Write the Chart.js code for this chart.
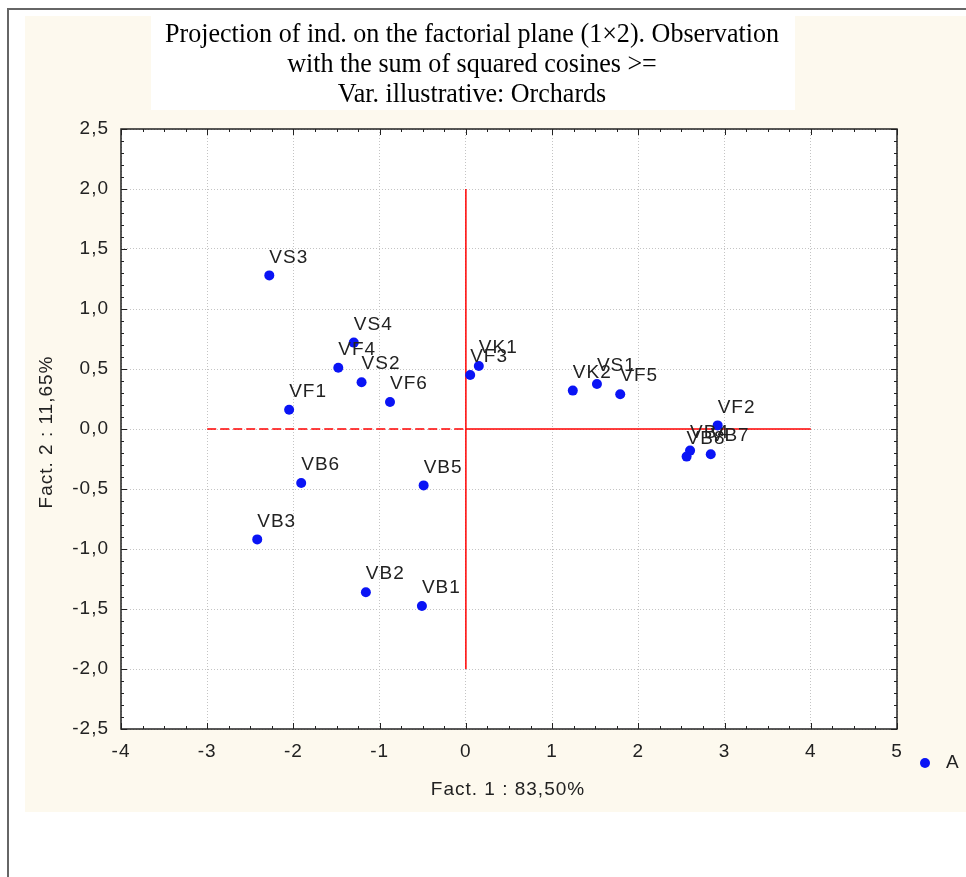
<!DOCTYPE html>
<html>
<head>
<meta charset="utf-8">
<script src="https://cdn.jsdelivr.net/npm/chart.js@4.4.1/dist/chart.umd.min.js"></script>
<style>
  html, body { margin: 0; padding: 0; background: #ffffff; }
  #wrap { width: 966px; height: 877px; position: relative; }
  canvas { display: block; }
</style>
</head>
<body>
<div id="wrap"><canvas id="c" width="966" height="877"></canvas></div>
<script>
// ---- Data ----
const titleLines = [
  'Projection of ind. on the factorial plane (1\u00d72). Observation',
  'with the sum of squared cosines >=',
  'Var. illustrative: Orchards'
];
const xAxisTitle = 'Fact. 1 : 83,50%';
const yAxisTitle = 'Fact. 2 : 11,65%';
const seriesName = 'A';

const pointLabels = ['VS3','VS4','VF4','VS2','VF1','VF6','VB6','VB5','VB3','VB2','VB1',
                     'VF3','VK1','VK2','VS1','VF5','VF2','VB7','VB4','VB8'];
const fact1 = [-2.28,-1.30,-1.48,-1.21,-2.05,-0.88,-1.91,-0.49,-2.42,-1.16,-0.51,
               0.05,0.15,1.24,1.52,1.79,2.92,2.84,2.60,2.56];
const fact2 = [1.28,0.72,0.51,0.39,0.16,0.225,-0.45,-0.47,-0.92,-1.36,-1.475,
               0.45,0.525,0.32,0.375,0.29,0.03,-0.21,-0.18,-0.23];

// reference cross lines
const vLineX = [0, 0];
const vLineY = [-2, 2];
const hSolidX = [0, 4];
const hSolidY = [0, 0];
const hDashX = [-3, 0];
const hDashY = [0, 0];

const xMin = -4, xMax = 5, xStep = 1, xMinor = 0.25;
const yMin = -2.5, yMax = 2.5, yStep = 0.5, yMinor = 0.1;

// ---- Styles ----
const CREAM = '#fdf9ee';
const BLUE = '#0a14f5';
const RED = '#ff0000';
const SANS = '"Liberation Sans", Arial, sans-serif';
const SERIF = '"Liberation Serif", "Times New Roman", serif';
const LS = '1px';
const FS = 19;

function toPts(xs, ys) { return xs.map((x, i) => ({ x: x, y: ys[i] })); }

const backgroundPlugin = {
  id: 'bg',
  beforeDraw(chart) {
    const ctx = chart.ctx;
    const W = chart.width, H = chart.height;
    ctx.save();
    ctx.fillStyle = '#ffffff';
    ctx.fillRect(0, 0, W, H);
    // outer frame lines
    ctx.fillStyle = '#666666';
    ctx.fillRect(7, 8, W - 7, 2);
    ctx.fillRect(7, 8, 2, H - 8);
    // cream panel
    ctx.fillStyle = CREAM;
    ctx.fillRect(25, 16, W - 25, 812 - 16);
    // title box
    ctx.fillStyle = '#ffffff';
    ctx.fillRect(151, 16, 795 - 151, 110 - 16);
    ctx.fillStyle = '#000000';
    ctx.font = '27px ' + SERIF;
    ctx.textAlign = 'center';
    ctx.textBaseline = 'middle';
    const w0 = ctx.measureText(titleLines[0]).width;
    const sx = 614 / w0;
    const ys = [35, 65, 95];
    titleLines.forEach((t, i) => {
      ctx.save();
      ctx.translate(472, ys[i]);
      ctx.scale(sx, 1);
      ctx.fillText(t, 0, 0);
      ctx.restore();
    });
    // plot area white
    const a = chart.chartArea;
    ctx.fillStyle = '#ffffff';
    ctx.fillRect(a.left, a.top, a.right - a.left, a.bottom - a.top);
    ctx.restore();
    ctx.letterSpacing = LS;
  }
};

const overlayPlugin = {
  id: 'overlay',
  afterDatasetsDraw(chart) {
    const ctx = chart.ctx;
    const xs = chart.scales.x, ysc = chart.scales.y;
    const a = chart.chartArea;
    ctx.save();
    ctx.letterSpacing = LS;
    // point labels
    const meta = chart.getDatasetMeta(3);
    ctx.fillStyle = '#222222';
    ctx.font = FS + 'px ' + SANS;
    ctx.textAlign = 'left';
    ctx.textBaseline = 'middle';
    meta.data.forEach((el, i) => {
      ctx.fillText(pointLabels[i], el.x, el.y - 18);
    });
    // frame
    ctx.strokeStyle = '#222222';
    ctx.lineWidth = 1.5;
    ctx.strokeRect(a.left, a.top, a.right - a.left, a.bottom - a.top);
    // inner ticks
    ctx.lineWidth = 1;
    ctx.beginPath();
    const nX = Math.round((xMax - xMin) / xMinor);
    for (let i = 0; i <= nX; i++) {
      const v = xMin + i * xMinor;
      const px = Math.round(xs.getPixelForValue(v)) + 0.5;
      const major = Math.abs(v / xStep - Math.round(v / xStep)) < 1e-6;
      const len = major ? 6 : 3;
      ctx.moveTo(px, a.bottom); ctx.lineTo(px, a.bottom - len);
      ctx.moveTo(px, a.top); ctx.lineTo(px, a.top + len);
    }
    const nY = Math.round((yMax - yMin) / yMinor);
    for (let i = 0; i <= nY; i++) {
      const v = yMin + i * yMinor;
      const py = Math.round(ysc.getPixelForValue(v)) + 0.5;
      const major = Math.abs(v / yStep - Math.round(v / yStep)) < 1e-6;
      const len = major ? 6 : 3;
      ctx.moveTo(a.left, py); ctx.lineTo(a.left + len, py);
      ctx.moveTo(a.right, py); ctx.lineTo(a.right - len, py);
    }
    ctx.stroke();
    // axis titles
    ctx.fillStyle = '#222222';
    ctx.font = FS + 'px ' + SANS;
    ctx.textAlign = 'center';
    ctx.textBaseline = 'middle';
    ctx.fillText(xAxisTitle, 508, 790);
    ctx.save();
    ctx.translate(47, 432);
    ctx.rotate(-Math.PI / 2);
    ctx.fillText(yAxisTitle, 0, 0);
    ctx.restore();
    // legend
    ctx.fillStyle = BLUE;
    ctx.beginPath();
    ctx.arc(925, 763, 5, 0, Math.PI * 2);
    ctx.fill();
    ctx.fillStyle = '#222222';
    ctx.textAlign = 'left';
    ctx.fillText(chart.data.datasets[3].label, 946, 763);
    ctx.restore();
  }
};

const tickFont = { family: SANS, size: FS };

new Chart(document.getElementById('c'), {
  type: 'scatter',
  data: {
    datasets: [
      { type: 'line', label: 'v', data: toPts(vLineX, vLineY), borderColor: RED, borderWidth: 1.5,
        pointRadius: 0, fill: false, showLine: true, order: 5 },
      { type: 'line', label: 'h', data: toPts(hSolidX, hSolidY), borderColor: RED, borderWidth: 1.5,
        pointRadius: 0, fill: false, showLine: true, order: 5 },
      { type: 'line', label: 'hd', data: toPts(hDashX, hDashY), borderColor: RED, borderWidth: 1.5,
        borderDash: [9, 4], pointRadius: 0, fill: false, showLine: true, order: 5 },
      { label: seriesName, data: toPts(fact1, fact2), backgroundColor: BLUE, borderColor: BLUE,
        pointRadius: 5, pointHoverRadius: 5, borderWidth: 0, order: 1 }
    ]
  },
  options: {
    responsive: false,
    animation: false,
    events: [],
    layout: { padding: { left: 0, top: 129, right: 69, bottom: 0 } },
    plugins: { legend: { display: false }, tooltip: { enabled: false }, title: { display: false } },
    scales: {
      x: {
        type: 'linear', min: xMin, max: xMax,
        afterFit(s) { s.height = 148; },
        ticks: { stepSize: xStep, color: '#222222', font: tickFont, padding: 11, maxRotation: 0,
                 callback: v => String(v) },
        grid: { color: '#c4c4c4', lineWidth: 1, drawTicks: false },
        border: { display: false, dash: [1, 2] }
      },
      y: {
        type: 'linear', min: yMin, max: yMax,
        afterFit(s) { s.width = 121; },
        ticks: { stepSize: yStep, color: '#222222', font: tickFont, padding: 12,
                 callback: v => v.toFixed(1).replace('.', ',') },
        grid: { color: '#c4c4c4', lineWidth: 1, drawTicks: false },
        border: { display: false, dash: [1, 2] }
      }
    }
  },
  plugins: [backgroundPlugin, overlayPlugin]
});
</script>
</body>
</html>
